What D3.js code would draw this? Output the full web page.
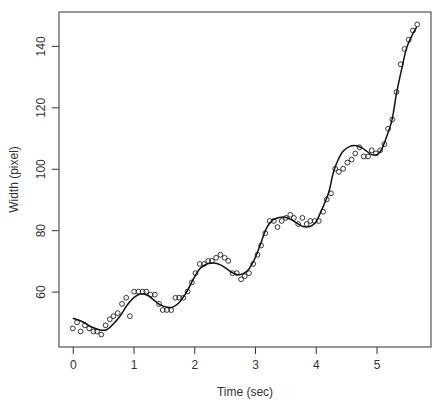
<!DOCTYPE html>
<html>
<head>
  <meta charset="utf-8">
  <script src="https://d3js.org/d3.v7.min.js"></script>
  <style>
    body { margin: 0; background: #fff; }
    text { font-family: "Liberation Sans", Arial, sans-serif; fill: #333; }
  </style>
</head>
<body>
  <svg id="viz"></svg>
  <script>
    var width = 435, height = 402;
    var margin = { left: 59, right: 4, top: 12, bottom: 55 };

    // observed widths (one per video frame)
    var times = [0.00, 0.07, 0.13, 0.20, 0.27, 0.34, 0.40, 0.47, 0.54, 0.61,
      0.67, 0.74, 0.81, 0.88, 0.94, 1.01, 1.08, 1.15, 1.21, 1.28,
      1.35, 1.42, 1.48, 1.55, 1.62, 1.69, 1.75, 1.82, 1.89, 1.96,
      2.02, 2.09, 2.16, 2.23, 2.29, 2.36, 2.43, 2.50, 2.56, 2.63,
      2.70, 2.77, 2.83, 2.90, 2.97, 3.04, 3.10, 3.17, 3.24, 3.31,
      3.37, 3.44, 3.51, 3.58, 3.64, 3.71, 3.78, 3.85, 3.91, 3.98,
      4.05, 4.12, 4.18, 4.25, 4.32, 4.38, 4.45, 4.52, 4.59, 4.65,
      4.72, 4.79, 4.86, 4.92, 4.99, 5.06, 5.13, 5.19, 5.26, 5.33,
      5.40, 5.46, 5.53, 5.60, 5.67];
    var widths = [48, 50, 47, 49, 48, 47, 47, 46, 49, 51,
      52, 53, 56, 58, 52, 60, 60, 60, 60, 59,
      59, 56, 54, 54, 54, 58, 58, 58, 60, 63,
      66, 69, 69, 70, 70, 71, 72, 71, 70, 66,
      66, 64, 65, 66, 69, 72, 75, 79, 83, 83,
      81, 83, 84, 85, 84, 82, 84, 82, 83, 83,
      83, 86, 90, 92, 100, 99, 100, 102, 103, 105,
      107, 104, 104, 106, 105, 106, 108, 113, 116, 125,
      134, 139, 142, 145, 147];

    // fitted smooth curve
    var fitT = [0.00, 0.16, 0.32, 0.45, 0.55, 0.65, 0.77, 0.90, 1.01, 1.11,
      1.23, 1.33, 1.44, 1.56, 1.64, 1.74, 1.88, 1.99, 2.10, 2.21,
      2.32, 2.43, 2.54, 2.64, 2.75, 2.86, 2.97, 3.08, 3.19, 3.30,
      3.47, 3.58, 3.69, 3.79, 3.90, 3.99, 4.07, 4.21, 4.29, 4.37,
      4.45, 4.56, 4.67, 4.76, 4.84, 4.92, 5.01, 5.07, 5.16, 5.25,
      5.33, 5.42, 5.50, 5.58, 5.66];
    var fitW = [51.3, 50.2, 48.4, 47.5, 47.5, 49.1, 51.8, 55.7, 58.1, 59.2,
      58.8, 57.3, 55.7, 54.9, 54.9, 56.2, 60.1, 64.3, 67.6, 69.0,
      69.3, 68.7, 67.3, 66.0, 65.5, 66.5, 69.7, 74.9, 80.7, 83.4,
      84.3, 83.6, 82.3, 81.2, 81.2, 82.3, 85.4, 92.1, 98.8, 103.0,
      105.7, 107.3, 107.5, 106.8, 105.7, 104.6, 104.6, 105.8, 110.1, 115.5,
      124.6, 133.0, 139.6, 143.2, 146.1];

    var xTicks = [0, 1, 2, 3, 4, 5];
    var yTicks = [60, 80, 100, 120, 140];

    // R-style 4% padding of the data range
    function pad(ext) {
      var d = (ext[1] - ext[0]) * 0.04;
      return [ext[0] - d, ext[1] + d];
    }

    var x = d3.scaleLinear()
      .domain(pad(d3.extent(times)))
      .range([margin.left, width - margin.right]);
    var y = d3.scaleLinear()
      .domain(pad(d3.extent(widths)))
      .range([height - margin.bottom, margin.top]);

    var svg = d3.select("#viz").attr("width", width).attr("height", height);

    // plot box
    svg.append("rect")
      .attr("x", margin.left)
      .attr("y", margin.top)
      .attr("width", width - margin.left - margin.right)
      .attr("height", height - margin.top - margin.bottom)
      .attr("fill", "none")
      .attr("stroke", "#333")
      .attr("stroke-width", 1);

    var xAxis = svg.append("g")
      .attr("transform", "translate(0," + (height - margin.bottom) + ")")
      .call(d3.axisBottom(x).tickValues(xTicks).tickSize(7).tickPadding(6).tickFormat(d3.format("d")));
    xAxis.select(".domain").remove();

    var yAxis = svg.append("g")
      .attr("transform", "translate(" + margin.left + ",0)")
      .call(d3.axisLeft(y).tickValues(yTicks).tickSize(7).tickPadding(0).tickFormat(d3.format("d")));
    yAxis.select(".domain").remove();

    svg.selectAll(".tick line").attr("stroke", "#333");
    svg.selectAll(".tick text")
      .style("font-family", "Liberation Sans, Arial, sans-serif")
      .style("font-size", "12px")
      .attr("fill", "#333");

    // rotate y tick labels like R
    yAxis.selectAll(".tick text")
      .attr("x", null).attr("dy", null)
      .attr("text-anchor", "middle")
      .attr("transform", "translate(-14,0) rotate(-90)");

    svg.append("text")
      .attr("x", (margin.left + width - margin.right) / 2)
      .attr("y", 396)
      .attr("text-anchor", "middle")
      .style("font-size", "12px")
      .text("Time (sec)");

    svg.append("text")
      .attr("transform", "translate(18," + ((margin.top + height - margin.bottom) / 2) + ") rotate(-90)")
      .attr("text-anchor", "middle")
      .style("font-size", "12px")
      .text("Width (pixel)");

    // points
    svg.append("g")
      .selectAll("circle")
      .data(times)
      .enter()
      .append("circle")
      .attr("cx", function(d) { return x(d); })
      .attr("cy", function(d, i) { return y(widths[i]); })
      .attr("r", 2.4)
      .attr("fill", "none")
      .attr("stroke", "#222")
      .attr("stroke-width", 0.9);

    // smooth fit
    var line = d3.line()
      .x(function(d) { return x(d); })
      .y(function(d, i) { return y(fitW[i]); })
      .curve(d3.curveCatmullRom);

    svg.append("path")
      .datum(fitT)
      .attr("d", line)
      .attr("fill", "none")
      .attr("stroke", "#111")
      .attr("stroke-width", 1.5);
  </script>
</body>
</html>
